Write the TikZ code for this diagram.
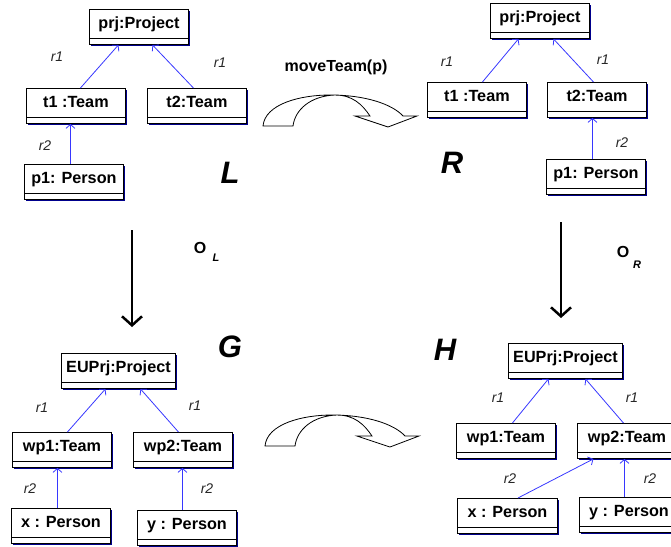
\documentclass[tikz,border=0pt]{standalone}
\usepackage{fontspec}
\setmainfont{Liberation Sans}
\usetikzlibrary{arrows.meta,shadows}
\definecolor{shadowblue}{RGB}{0,0,140}
\definecolor{linkblue}{RGB}{55,55,255}
\begin{document}
\begin{tikzpicture}[x=1pt,y=-1pt,
  umlbox/.style={draw=black, fill=white, line width=0.9pt, anchor=north west,
    minimum width=99pt, minimum height=35pt, inner sep=0pt,
    text height=19pt, text depth=16pt,
    font=\bfseries\fontsize{16.2}{16}\selectfont,
    general shadow={fill=shadowblue, shadow xshift=2pt, shadow yshift=-2pt},
    path picture={\draw[line width=0.8pt]
      ([yshift=6pt]path picture bounding box.south west) --
      ([yshift=6pt]path picture bounding box.south east);}},
  widebox/.style={umlbox, minimum width=114pt},
  umllink/.style={draw=linkblue, line width=0.8pt, -{Straight Barb[length=4pt,width=9pt]}},
  rlabel/.style={font=\itshape\fontsize{14}{14}\selectfont, text=black!85, inner sep=0pt},
  biglabel/.style={font=\bfseries\itshape\fontsize{31}{31}\selectfont, inner sep=0pt},
  oplabel/.style={font=\bfseries\fontsize{16}{16}\selectfont, inner sep=0pt},
  subl/.style={font=\bfseries\itshape\fontsize{11}{11}\selectfont, inner sep=0pt},
  rulename/.style={font=\bfseries\fontsize{16}{16}\selectfont, inner sep=0pt},
  bigarrow/.style={line width=2.5pt, -{Straight Barb[length=9pt,width=20pt]}},
  curvearrow/.style={draw=black, fill=white, line width=0.8pt, line join=miter}
]
\useasboundingbox (0,0) rectangle (671,546);

% ---------- L ----------
\node[umlbox] (Lprj) at (89,9) {prj:Project};
\node[umlbox] (Lt1) at (26,88) {t1 :Team};
\node[umlbox] (Lt2) at (147,88) {t2:Team};
\node[umlbox] (Lp1) at (24,164) {p1: Person};
\draw[umllink] ([xshift=4.5pt]Lt1.north) -- ([xshift=-20.5pt]Lprj.south);
\draw[umllink] ([xshift=-3.5pt]Lt2.north) -- ([xshift=13.5pt]Lprj.south);
\draw[umllink] ([xshift=-3.5pt]Lp1.north) -- ([xshift=-3.5pt]Lp1.north |- Lt1.south);
\node[rlabel] (Lr1a) at (57,57) {r1};
\node[rlabel] (Lr1b) at (220,63) {r1};
\node[rlabel] (Lr2) at (45,146) {r2};
\node[biglabel] (Lname) at (230,173) {L};

% ---------- R ----------
\node[umlbox] (Rprj) at (490,3) {prj:Project};
\node[umlbox] (Rt1) at (427,82) {t1 :Team};
\node[umlbox] (Rt2) at (547,82) {t2:Team};
\node[umlbox] (Rp1) at (546,159) {p1: Person};
\draw[umllink] ([xshift=5.5pt]Rt1.north) -- ([xshift=-21.5pt]Rprj.south);
\draw[umllink] ([xshift=-3.5pt]Rt2.north) -- ([xshift=13.5pt]Rprj.south);
\draw[umllink] ([xshift=-3.5pt]Rp1.north) -- ([xshift=-3.5pt]Rp1.north |- Rt2.south);
\node[rlabel] (Rr1a) at (447,62) {r1};
\node[rlabel] (Rr1b) at (603,60) {r1};
\node[rlabel] (Rr2) at (622,143) {r2};
\node[biglabel] (Rname) at (452,163) {R};

% ---------- G ----------
\node[widebox] (Gprj) at (61,353) {EUPrj:Project};
\node[umlbox] (Gwp1) at (12,432) {wp1:Team};
\node[umlbox] (Gwp2) at (133,432) {wp2:Team};
\node[umlbox] (Gx) at (11,508) {x : Person};
\node[umlbox] (Gy) at (137,510) {y : Person};
\draw[umllink] ([xshift=5.5pt]Gwp1.north) -- ([xshift=-13pt]Gprj.south);
\draw[umllink] ([xshift=-4.5pt]Gwp2.north) -- ([xshift=22pt]Gprj.south);
\draw[umllink] ([xshift=-3.5pt]Gx.north) -- ([xshift=-3.5pt]Gx.north |- Gwp1.south);
\draw[umllink] ([xshift=-4.5pt]Gy.north) -- ([xshift=-4.5pt]Gy.north |- Gwp2.south);
\node[rlabel] (Gr1a) at (42,408) {r1};
\node[rlabel] (Gr1b) at (195,406) {r1};
\node[rlabel] (Gr2a) at (30,489) {r2};
\node[rlabel] (Gr2b) at (207,489) {r2};
\node[biglabel] (Gname) at (230,347) {G};

% ---------- H ----------
\node[widebox] (Hprj) at (508,343) {EUPrj:Project};
\node[umlbox] (Hwp1) at (456,423) {wp1:Team};
\node[umlbox] (Hwp2) at (577,423) {wp2:Team};
\node[umlbox, minimum width=100pt] (Hx) at (457,498) {x : Person};
\node[umlbox] (Hy) at (579,497) {y : Person};
\draw[umllink] ([xshift=6.5pt]Hwp1.north) -- ([xshift=-17pt]Hprj.south);
\draw[umllink] ([xshift=-3.5pt]Hwp2.north) -- ([xshift=20pt]Hprj.south);
\draw[umllink] ([xshift=10.5pt]Hx.north) -- ([xshift=-33.5pt]Hwp2.south);
\draw[umllink] ([xshift=-4.5pt]Hy.north) -- ([xshift=-4.5pt]Hy.north |- Hwp2.south);
\node[rlabel] (Hr1a) at (498,398) {r1};
\node[rlabel] (Hr1b) at (632,398) {r1};
\node[rlabel] (Hr2a) at (510,479) {r2};
\node[rlabel] (Hr2b) at (650,479) {r2};
\node[biglabel] (Hname) at (445,350) {H};

% ---------- morphisms ----------
\coordinate (oLs) at (132,230);
\coordinate (oLe) at (132,327);
\draw[bigarrow] (oLs) -- (oLe);
\node[oplabel] (oL) at (200,248) {O};
\node[subl] (oLsub) at (216,258) {L};

\coordinate (oRs) at (561,222);
\coordinate (oRe) at (561,318);
\draw[bigarrow] (oRs) -- (oRe);
\node[oplabel] (oR) at (623,252) {O};
\node[subl] (oRsub) at (637,265) {R};

% ---------- rule arrows ----------
\node[rulename] (rname) at (336,67) {moveTeam(p)};
\draw[curvearrow] (263,126) .. controls (265,104) and (300,95) .. (330,95)
  .. controls (365,95) and (392,104) .. (403,116)
  -- (417,116) -- (388,127) -- (355,116) -- (370,116)
  .. controls (362,104) and (352,95) .. (335,95)
  .. controls (310,96) and (295,110) .. (293,126) -- cycle;

\begin{scope}[shift={(2,320)}]
\draw[curvearrow] (263,126) .. controls (265,104) and (300,95) .. (330,95)
  .. controls (365,95) and (392,104) .. (403,116)
  -- (417,116) -- (388,127) -- (355,116) -- (370,116)
  .. controls (362,104) and (352,95) .. (335,95)
  .. controls (310,96) and (295,110) .. (293,126) -- cycle;
\end{scope}
\end{tikzpicture}
\end{document}
